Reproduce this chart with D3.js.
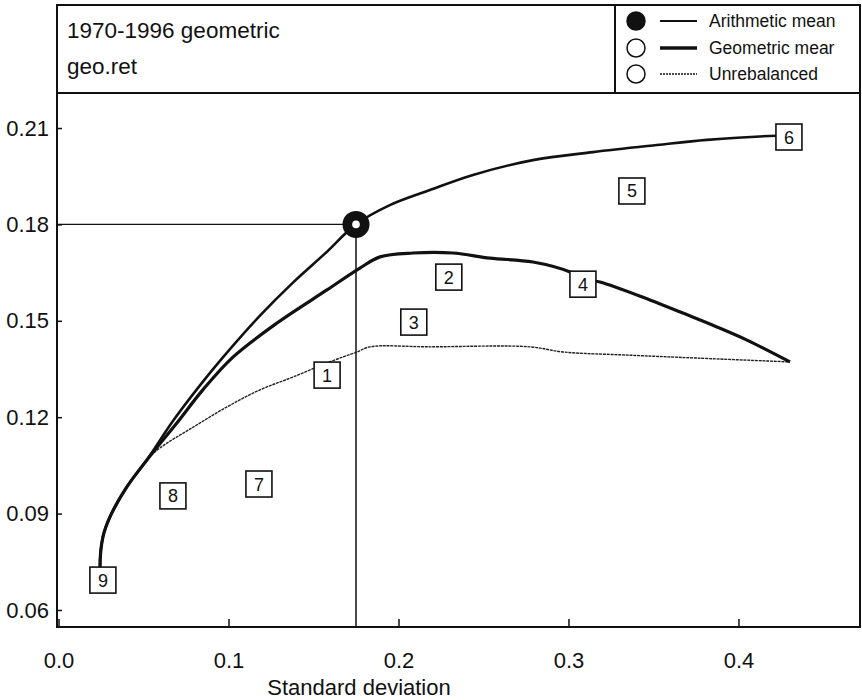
<!DOCTYPE html>
<html>
<head>
<meta charset="utf-8">
<script src="https://cdn.jsdelivr.net/npm/d3@7"></script>
<style>
  html, body { margin: 0; padding: 0; background: #fff; }
  svg { display: block; font-family: "Liberation Sans", Arial, Helvetica, sans-serif; }
</style>
</head>
<body>
<svg id="chart" width="862" height="700"></svg>
<script>
// Efficient frontiers, 1970-1996: standard deviation vs. geometric return
const titleLines = ["1970-1996 geometric", "geo.ret"];
const xLabel = "Standard deviation";
const xTicks = [0.0, 0.1, 0.2, 0.3, 0.4];
const yTicks = [0.06, 0.09, 0.12, 0.15, 0.18, 0.21];

const seriesNames = ["Arithmetic mean", "Geometric mear", "Unrebalanced"];

// [standard deviation, return]
const arithmeticMean = [
  [0.025, 0.0700], [0.0244, 0.0731], [0.0261, 0.0827], [0.0302, 0.0889], [0.0402, 0.0983],
  [0.0520, 0.1067], [0.0673, 0.1188], [0.0832, 0.1299],
  [0.0967, 0.1386], [0.1185, 0.1516], [0.1379, 0.1619], [0.1567, 0.1709],
  [0.1750, 0.1800], [0.1949, 0.1860], [0.2185, 0.1907],
  [0.2438, 0.1954], [0.2791, 0.2000], [0.3144, 0.2025], [0.3520, 0.2047],
  [0.3814, 0.2063], [0.4226, 0.2076], [0.4297, 0.2076]
];
const geometricMean = [
  [0.025, 0.0700], [0.0244, 0.0731], [0.0261, 0.0827], [0.0302, 0.0889], [0.0402, 0.0983],
  [0.0520, 0.1067], [0.0696, 0.1182], [0.0849, 0.1285], [0.1026, 0.1387],
  [0.1285, 0.1493], [0.1579, 0.1596], [0.1773, 0.1664], [0.1891, 0.1699],
  [0.2085, 0.1711], [0.2320, 0.1711], [0.2538, 0.1695], [0.2791, 0.1683],
  [0.3009, 0.1652], [0.3085, 0.1630], [0.3185, 0.1621], [0.3479, 0.1565],
  [0.3673, 0.1524], [0.3873, 0.1481], [0.4050, 0.1440], [0.4303, 0.1372]
];
const unrebalanced = [
  [0.025, 0.0700], [0.0244, 0.0731], [0.0261, 0.0827], [0.0302, 0.0889], [0.0402, 0.0983],
  [0.0520, 0.1067], [0.0596, 0.1104], [0.0792, 0.1169], [0.0991, 0.1232],
  [0.1185, 0.1285], [0.1379, 0.1325], [0.1579, 0.1369], [0.1755, 0.1403],
  [0.1832, 0.1419], [0.2185, 0.1419], [0.2773, 0.1419], [0.2967, 0.1403],
  [0.3361, 0.1393], [0.3755, 0.1384], [0.4303, 0.1372]
];

// highlighted portfolio on the arithmetic-mean frontier
const highlight = [0.175, 0.18];

// numbered asset labels
const assetIds = ["1", "2", "3", "4", "5", "6", "7", "8", "9"];
const assetSd  = [0.158, 0.2296, 0.209, 0.3085, 0.3373, 0.4297, 0.1179, 0.0673, 0.0261];
const assetRet = [0.1331, 0.1636, 0.1496, 0.1614, 0.1904, 0.2072, 0.0992, 0.0955, 0.0693];

const svg = d3.select("#chart");
const ink = "#111";

const plot = { left: 57, right: 860, top: 93, bottom: 627 };
const x = d3.scaleLinear().domain([-0.0009, 0.4715]).range([plot.left, plot.right]);
const y = d3.scaleLinear().domain([0.0547, 0.2209]).range([plot.bottom, plot.top]);

// header box with title and legend
svg.append("rect")
  .attr("x", 57).attr("y", 5).attr("width", 803).attr("height", 88)
  .attr("fill", "none").attr("stroke", ink).attr("stroke-width", 2);
svg.append("line")
  .attr("x1", 615).attr("x2", 615).attr("y1", 5).attr("y2", 93)
  .attr("stroke", ink).attr("stroke-width", 2);

svg.selectAll("text.title").data(titleLines).join("text")
  .attr("class", "title")
  .attr("x", 67).attr("y", (d, i) => 38 + i * 36)
  .attr("font-size", 22.5).attr("fill", ink)
  .text(d => d);

const legendY = [21, 48, 74];
const legendStroke = [2, 3.5, 1.5];
const legendDash = [null, null, "2,1"];
const lg = svg.append("g");
seriesNames.forEach((name, i) => {
  lg.append("circle").attr("cx", 636).attr("cy", legendY[i]).attr("r", 9)
    .attr("fill", i === 0 ? ink : "#fff").attr("stroke", ink).attr("stroke-width", 1.5);
  lg.append("line").attr("x1", 660).attr("x2", 697).attr("y1", legendY[i]).attr("y2", legendY[i])
    .attr("stroke", ink).attr("stroke-width", legendStroke[i])
    .attr("stroke-dasharray", legendDash[i]);
  lg.append("text").attr("x", 709).attr("y", legendY[i]).attr("dy", "0.35em")
    .attr("font-size", 17.5).attr("fill", ink).text(name);
});

// axes
const yAxis = d3.axisLeft(y).tickValues(yTicks).tickFormat(d3.format(".2f"))
  .tickSize(-5).tickPadding(8);
const xAxis = d3.axisBottom(x).tickValues(xTicks).tickFormat(d3.format(".1f"))
  .tickSize(-8).tickPadding(25);

const gy = svg.append("g").attr("transform", `translate(${plot.left},0)`).call(yAxis);
const gx = svg.append("g").attr("transform", `translate(0,${plot.bottom})`).call(xAxis);
[gx, gy].forEach(g => {
  g.select(".domain").remove();
  g.selectAll(".tick line").attr("stroke", ink).attr("stroke-width", 1.5);
  g.selectAll(".tick text").attr("font-size", 22).attr("fill", ink)
    .attr("font-family", "'Liberation Sans', Arial, sans-serif");
});

// plot frame
svg.append("rect")
  .attr("x", plot.left).attr("y", plot.top)
  .attr("width", plot.right - plot.left).attr("height", plot.bottom - plot.top)
  .attr("fill", "none").attr("stroke", ink).attr("stroke-width", 2);

svg.append("text")
  .attr("x", 359).attr("y", 695)
  .attr("text-anchor", "middle").attr("font-size", 22).attr("fill", ink)
  .text(xLabel);

// reference lines to the highlighted portfolio
svg.append("line")
  .attr("x1", x(highlight[0])).attr("x2", x(highlight[0]))
  .attr("y1", plot.bottom).attr("y2", y(highlight[1]))
  .attr("stroke", ink).attr("stroke-width", 1.5);
svg.append("line")
  .attr("x1", plot.left).attr("x2", x(highlight[0]))
  .attr("y1", y(highlight[1])).attr("y2", y(highlight[1]))
  .attr("stroke", ink).attr("stroke-width", 1.2);

// frontier curves
const curve = d3.line().x(d => x(d[0])).y(d => y(d[1])).curve(d3.curveCatmullRom.alpha(0.5));

svg.append("path").datum(unrebalanced).attr("d", curve)
  .attr("fill", "none").attr("stroke", "#222").attr("stroke-width", 1.4)
  .attr("stroke-dasharray", "3,0.8");
svg.append("path").datum(geometricMean).attr("d", curve)
  .attr("fill", "none").attr("stroke", ink).attr("stroke-width", 3.2)
  .attr("stroke-linejoin", "round");
svg.append("path").datum(arithmeticMean).attr("d", curve)
  .attr("fill", "none").attr("stroke", ink).attr("stroke-width", 2.6)
  .attr("stroke-linejoin", "round");

// highlighted portfolio marker
svg.append("circle").attr("cx", x(highlight[0])).attr("cy", y(highlight[1]))
  .attr("r", 13.5).attr("fill", ink);
svg.append("circle").attr("cx", x(highlight[0])).attr("cy", y(highlight[1]))
  .attr("r", 3.8).attr("fill", "#fff");

// numbered asset boxes
const assets = assetIds.map((id, i) => ({ id, sd: assetSd[i], ret: assetRet[i] }));
const ag = svg.selectAll("g.asset").data(assets).join("g")
  .attr("class", "asset")
  .attr("transform", d => `translate(${x(d.sd)},${y(d.ret)})`);
ag.append("rect").attr("x", -13).attr("y", -13).attr("width", 26).attr("height", 26)
  .attr("fill", "#fff").attr("stroke", ink).attr("stroke-width", 1.6);
ag.append("text").attr("text-anchor", "middle").attr("dy", "0.36em")
  .attr("font-size", 18).attr("fill", ink).text(d => d.id);
</script>
</body>
</html>
